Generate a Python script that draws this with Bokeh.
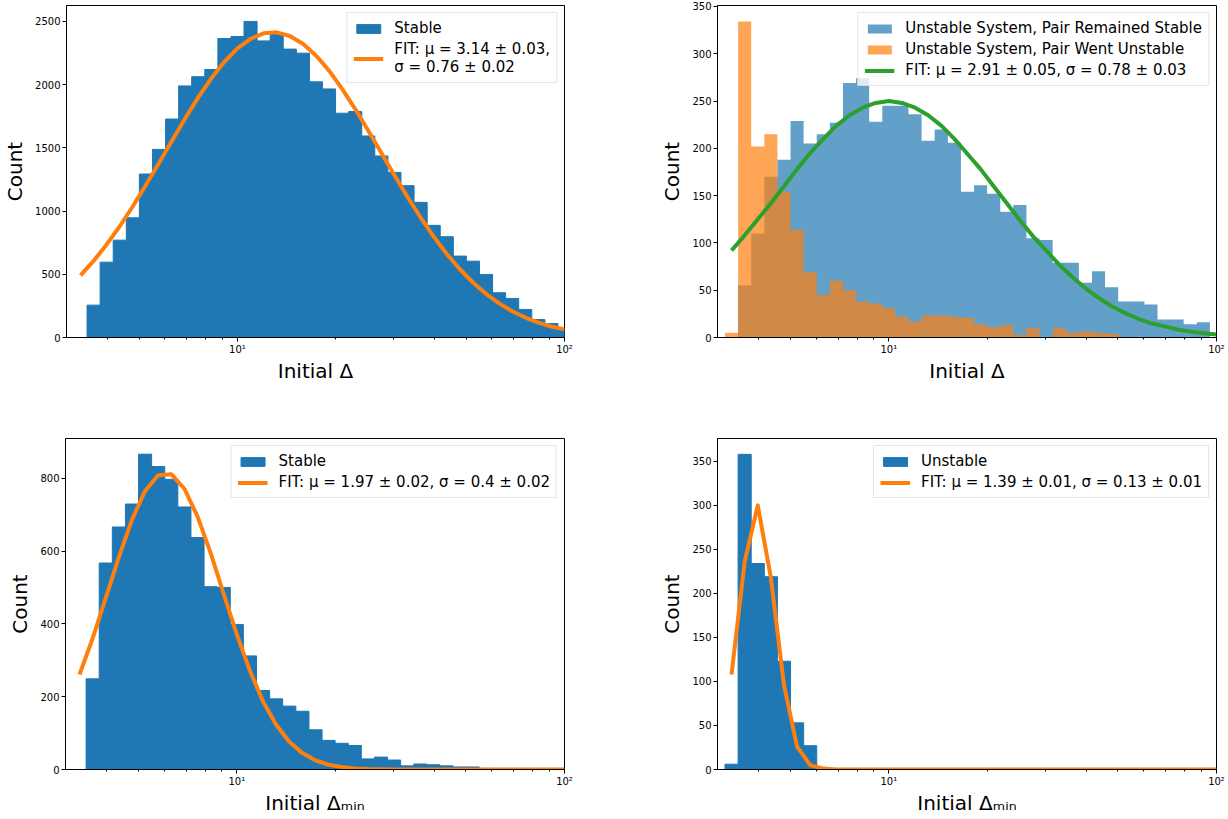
import math
from bokeh.plotting import figure
from bokeh.models import Range1d, FixedTicker, CustomJSTickFormatter
from bokeh.layouts import column, row
from bokeh.embed import file_html
from bokeh.resources import INLINE

FONT = "DejaVu Sans"
BLUE = "#1f77b4"
ORANGE = "#ff7f0e"
GREEN = "#2ca02c"

# ---------------- data ----------------
# shared log-spaced histogram bin edges
bin_edges = [3.162, 3.467, 3.802, 4.169, 4.571, 5.012, 5.495, 6.026, 6.607, 7.244,
             7.943, 8.710, 9.550, 10.47, 11.48, 12.59, 13.80, 15.14, 16.60, 18.20,
             19.95, 21.88, 23.99, 26.30, 28.84, 31.62, 34.67, 38.02, 41.69, 45.71,
             50.12, 54.95, 60.26, 66.07, 72.44, 79.43, 87.10, 95.50, 104.7]

# panel 1: Initial Delta, stable
stable_delta_counts = [0, 256, 596, 770, 947, 1293, 1488, 1728, 1990, 2063,
                       2120, 2365, 2381, 2500, 2346, 2407, 2281, 2249, 2022, 1966,
                       1774, 1787, 1594, 1436, 1306, 1201, 1069, 887, 797, 644,
                       604, 499, 354, 309, 222, 142, 110, 71]
stable_delta_fit = [491, 606, 736, 880, 1038, 1206, 1381, 1559, 1733, 1899,
                    2050, 2181, 2287, 2362, 2406, 2414, 2385, 2324, 2231, 2111,
                    1967, 1807, 1636, 1459, 1283, 1111, 949, 798, 661, 540,
                    435, 345, 270, 208, 158, 118, 87, 64]

# panel 2: Initial Delta, unstable systems
remained_stable_counts = [0, 55, 110, 170, 188, 229, 205, 215, 227, 269,
                          274, 228, 245, 245, 236, 208, 220, 206, 154, 161,
                          152, 133, 140, 105, 103, 79, 79, 58, 70, 53,
                          38, 38, 35, 19, 19, 14, 16, 0]
went_unstable_counts = [5, 334, 202, 215, 154, 114, 69, 45, 60, 50,
                        38, 36, 31, 22, 17, 23, 23, 22, 21, 14,
                        11, 13, 3, 10, 0, 10, 5, 6, 5, 4,
                        0, 0, 0, 0, 0, 0, 0, 0]
remained_stable_fit = [92, 108, 125, 142, 160, 178, 195, 210, 224, 235,
                       243, 248, 250, 248, 243, 235, 224, 210, 194, 178,
                       160, 142, 124, 107, 92, 77, 64, 52, 42, 33,
                       26, 20, 15, 12, 8.5, 6.2, 4.5, 3.2]

# panel 3: Initial Delta_min, stable
stable_dmin_counts = [0, 249, 567, 666, 729, 866, 832, 797, 721, 637,
                      502, 500, 398, 312, 217, 194, 174, 160, 109, 80,
                      72, 66, 29, 34, 26, 10, 15, 13, 10, 7,
                      7, 3, 2, 1, 1, 0, 0, 0]
stable_dmin_fit = [261, 360, 471, 583, 686, 765, 808, 811, 771, 695,
                   595, 482, 371, 271, 187, 123, 76, 45, 25, 13,
                   7, 3, 1.4, 0.6, 0.2, 0, 0, 0, 0, 0,
                   0, 0, 0, 0, 0, 0, 0, 0]

# panel 4: Initial Delta_min, unstable
unstable_dmin_counts = [6, 358, 234, 219, 123, 53, 27, 0, 0, 0,
                        0, 0, 0, 0, 0, 0, 0, 0, 0, 0,
                        0, 0, 0, 0, 0, 0, 0, 0, 0, 0,
                        0, 0, 0, 0, 0, 0, 0, 0]
unstable_dmin_fit = [108, 236, 300, 218, 96, 26, 5, 1, 0, 0,
                     0, 0, 0, 0, 0, 0, 0, 0, 0, 0,
                     0, 0, 0, 0, 0, 0, 0, 0, 0, 0,
                     0, 0, 0, 0, 0, 0, 0, 0]

x_major_ticks = [10, 100]
x_minor_ticks = [4, 5, 6, 7, 8, 9, 20, 30, 40, 50, 60, 70, 80, 90]

lefts = bin_edges[:-1]
rights = bin_edges[1:]
centers = [math.sqrt(a * b) for a, b in zip(lefts, rights)]


def make_fig(width, height, bl, br, bt, bb, ymax, yticks, xlabel):
    p = figure(width=width, height=height, x_axis_type="log",
               x_range=Range1d(3, 100), y_range=Range1d(0, ymax),
               output_backend="svg", toolbar_location=None,
               min_border_left=bl, min_border_right=br,
               min_border_top=bt, min_border_bottom=bb)
    p.xgrid.visible = False
    p.ygrid.visible = False
    p.outline_line_color = "black"
    p.outline_line_alpha = 1
    p.outline_line_width = 1
    p.background_fill_color = "white"
    for ax in (p.xaxis[0], p.yaxis[0]):
        ax.axis_line_color = "black"
        ax.major_tick_line_color = "black"
        ax.minor_tick_line_color = "black"
        ax.major_tick_in = 0
        ax.major_tick_out = 4
        ax.minor_tick_in = 0
        ax.minor_tick_out = 2
        ax.major_label_text_font = FONT
        ax.major_label_text_font_size = "10px"
        ax.major_label_text_color = "black"
        ax.axis_label_text_font = FONT
        ax.axis_label_text_font_size = "20px"
        ax.axis_label_text_font_style = "normal"
        ax.axis_label_text_color = "black"
    p.xaxis.ticker = FixedTicker(ticks=x_major_ticks, minor_ticks=x_minor_ticks)
    p.xaxis.formatter = CustomJSTickFormatter(code="""
        const e = Math.round(Math.log10(tick));
        const sup = {1: "\u00b9", 2: "\u00b2", 0: "\u2070"};
        return "10" + sup[e];
    """)
    p.xaxis.major_label_standoff = 2
    p.xaxis.axis_label_standoff = 1
    p.xaxis.axis_label = xlabel
    p.yaxis.ticker = FixedTicker(ticks=yticks, minor_ticks=[])
    p.yaxis.minor_tick_line_color = None
    p.yaxis.major_label_standoff = 2
    p.yaxis.axis_label_standoff = 5
    p.yaxis.axis_label = "Count"
    return p


def style_legend(p):
    lg = p.legend[0]
    lg.location = "top_right"
    lg.margin = 7
    lg.padding = 6
    lg.spacing = 3
    lg.label_text_font = FONT
    lg.label_text_font_size = "15px"
    lg.label_text_color = "black"
    lg.label_standoff = 11
    lg.glyph_width = 30
    lg.glyph_height = 11
    lg.label_height = 17
    lg.border_line_color = "#cccccc"
    lg.border_line_width = 1
    lg.background_fill_alpha = 0.8


TOP_H, BOT_H = 419, 398
L_W, R_W = 640, 588

# top-left
p1 = make_fig(L_W, TOP_H, 65, 76, 5, 82, 2626, [0, 500, 1000, 1500, 2000, 2500], "Initial Δ")
p1.quad(left=lefts, right=rights, bottom=0, top=stable_delta_counts,
        fill_color=BLUE, line_color=BLUE, line_width=1, legend_label="Stable")
p1.line(centers, stable_delta_fit, line_color=ORANGE, line_width=4, line_join="round",
        legend_label="FIT: μ = 3.14 ± 0.03,\nσ = 0.76 ± 0.02")
style_legend(p1)

# top-right (semi-transparent histograms drawn as seamless step areas)
p2 = make_fig(R_W, TOP_H, 77, 12, 5, 82, 351, [0, 50, 100, 150, 200, 250, 300, 350], "Initial Δ")
p2.varea_step(x=bin_edges, y1=0, y2=remained_stable_counts + remained_stable_counts[-1:],
              step_mode="after", fill_color=BLUE, fill_alpha=0.7,
              legend_label="Unstable System, Pair Remained Stable")
p2.varea_step(x=bin_edges, y1=0, y2=went_unstable_counts + went_unstable_counts[-1:],
              step_mode="after", fill_color=ORANGE, fill_alpha=0.7,
              legend_label="Unstable System, Pair Went Unstable")
p2.line(centers, remained_stable_fit, line_color=GREEN, line_width=4, line_join="round",
        legend_label="FIT: μ = 2.91 ± 0.05, σ = 0.78 ± 0.03")
style_legend(p2)

# bottom-left
p3 = make_fig(L_W, BOT_H, 65, 76, 19, 48, 909, [0, 200, 400, 600, 800], "Initial Δₘᵢₙ")
p3.quad(left=lefts, right=rights, bottom=0, top=stable_dmin_counts,
        fill_color=BLUE, line_color=BLUE, line_width=1, legend_label="Stable")
p3.line(centers, stable_dmin_fit, line_color=ORANGE, line_width=4, line_join="round",
        legend_label="FIT: μ = 1.97 ± 0.02, σ = 0.4 ± 0.02")
style_legend(p3)

# bottom-right
p4 = make_fig(R_W, BOT_H, 77, 12, 19, 48, 376, [0, 50, 100, 150, 200, 250, 300, 350], "Initial Δₘᵢₙ")
p4.quad(left=lefts, right=rights, bottom=0, top=unstable_dmin_counts,
        fill_color=BLUE, line_color=BLUE, line_width=1, legend_label="Unstable")
p4.line(centers, unstable_dmin_fit, line_color=ORANGE, line_width=4, line_join="round",
        legend_label="FIT: μ = 1.39 ± 0.01, σ = 0.13 ± 0.01")
style_legend(p4)

layout = column(row(p1, p2, spacing=0), row(p3, p4, spacing=0), spacing=0)

open("out.html", "w").write(file_html(layout, INLINE))
